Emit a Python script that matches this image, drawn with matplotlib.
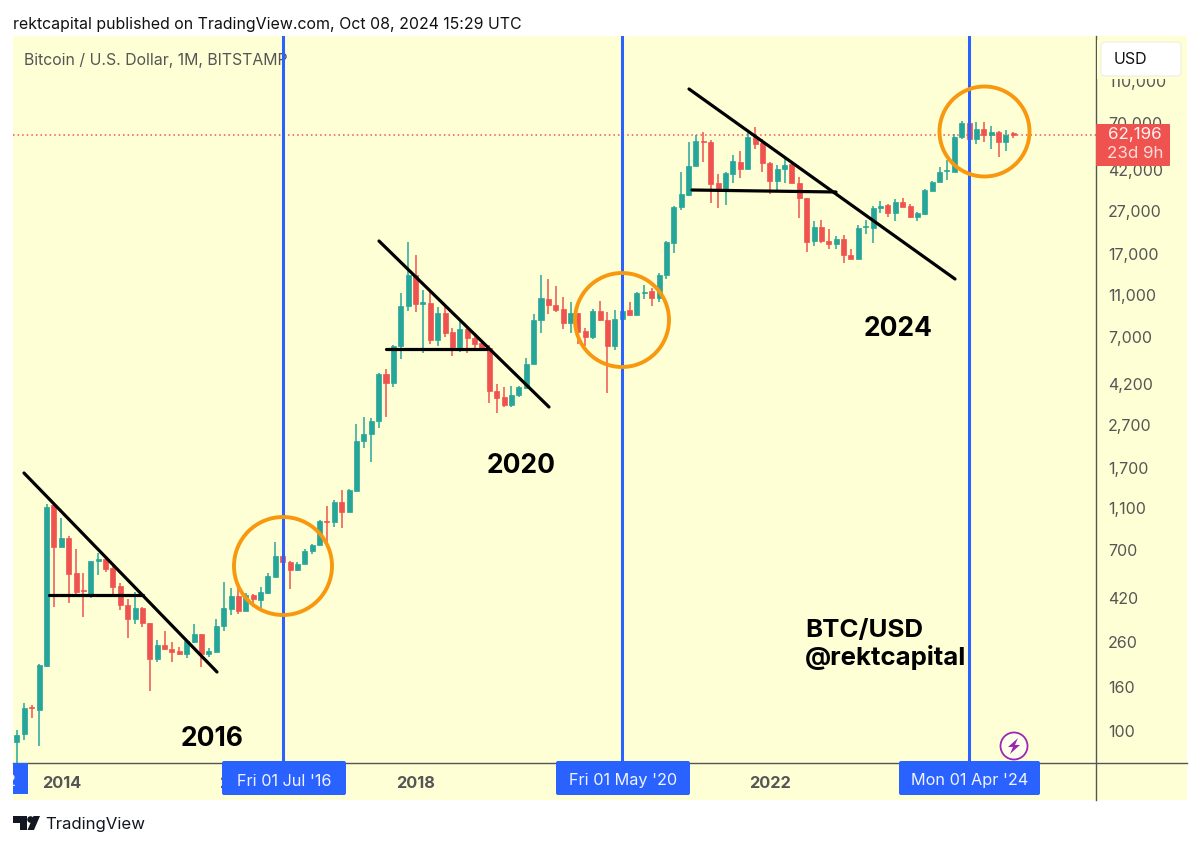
import numpy as np
import matplotlib
matplotlib.use("Agg")
import matplotlib.pyplot as plt
from matplotlib.patches import Circle, FancyBboxPatch, Polygon, Rectangle

plt.rcParams['font.family'] = ['Inter', 'DejaVu Sans']

# BTC/USD monthly candles, Jul 2013 to Oct 2024
opens = [89, 97, 130, 126, 202, 1140, 724, 800, 551, 457, 433, 626, 638, 581, 477, 390, 335, 378,
         319, 217, 252, 243, 236, 228, 262, 284, 229, 234, 309, 374, 428, 366, 433, 410, 441, 527,
         661, 616, 565, 603, 693, 738, 961, 951, 1183, 1055, 1334, 2275, 2440, 2820, 4680, 4240,
         6300, 9740, 13600, 9960, 10100, 6760, 9070, 7400, 6250, 7630, 6930, 6520, 6180, 3910,
         3640, 3350, 3720, 4040, 5210, 8380, 10550, 9880, 9450, 8090, 9010, 7470, 7000, 9240,
         8380, 6300, 8470, 9300, 8870, 11170, 11430, 10590, 13600, 19300, 28300, 32200, 44190,
         57670, 56860, 36550, 34260, 40400, 46000, 42800, 60400, 56200, 45300, 37600, 42500,
         45000, 36800, 31300, 19600, 22800, 19630, 19000, 20060, 16800, 16200, 22800, 22600,
         28000, 29000, 26600, 29800, 28600, 25300, 26300, 33800, 36900, 41700, 41400, 60000,
         70200, 58900, 65600, 61500, 63300, 57200, 62800]
highs = [101, 135, 132, 206, 1154, 1163, 989, 818, 708, 547, 626, 683, 654, 598, 491, 413, 448, 382,
         320, 267, 295, 262, 246, 267, 317, 284, 244, 335, 500, 465, 473, 444, 436, 470, 547, 769,
         690, 625, 618, 708, 750, 971, 1133, 1205, 1342, 1355, 2730, 2956, 2905, 4745, 4930, 6400,
         11170, 19360, 16900, 11580, 11370, 9610, 9740, 7660, 8230, 7790, 7260, 6710, 6400, 4200,
         4060, 4130, 4130, 5550, 8940, 13600, 12990, 12130, 10770, 10210, 9010, 7660, 9400, 10320,
         9160, 9330, 10000, 10210, 11300, 12220, 11790, 13860, 19600, 28600, 41160, 56860, 61500,
         63500, 58300, 40400, 41400, 49400, 51900, 64900, 67200, 58700, 46100, 44500, 47900,
         46100, 39300, 31300, 24350, 24600, 22300, 20700, 21000, 17950, 23400, 24600, 28600,
         30200, 29250, 30900, 31100, 29250, 26900, 34260, 37500, 43700, 47000, 62200, 71700,
         71000, 70500, 70500, 67800, 64200, 64900, 63300]
lows = [66, 91, 115, 85, 200, 382, 724, 398, 433, 340, 420, 537, 556, 438, 368, 273, 317, 308,
        153, 210, 238, 210, 227, 220, 257, 199, 223, 234, 295, 349, 353, 366, 382, 375, 438, 527,
        598, 463, 561, 603, 670, 738, 744, 904, 888, 1055, 1334, 2120, 1820, 2610, 2940, 4080,
        5510, 9260, 9160, 5890, 6470, 6330, 6960, 5690, 5960, 5850, 6020, 6020, 3440, 3090,
        3290, 3290, 3670, 4000, 5210, 7310, 8910, 9160, 7630, 7260, 6450, 6330, 6810, 8280,
        3800, 6070, 8300, 8750, 8800, 10470, 9740, 10210, 13040, 17300, 27400, 31900, 44190,
        46100, 29460, 28100, 28900, 36800, 38800, 42800, 52700, 41160, 32600, 34000, 36550,
        36550, 25100, 17400, 18500, 19300, 18000, 18100, 15400, 16100, 16200, 21100, 19300,
        26500, 25300, 24350, 28300, 25100, 24400, 26100, 33700, 36900, 37900, 41400, 58700,
        58500, 55800, 57200, 52700, 48500, 51900, 59300]
closes = [96, 128, 128, 204, 1114, 724, 800, 543, 448, 450, 626, 636, 575, 473, 389, 335, 375, 319,
          217, 253, 243, 235, 228, 264, 284, 229, 236, 309, 375, 428, 364, 433, 413, 446, 531, 661,
          620, 565, 603, 693, 740, 961, 955, 1183, 1055, 1342, 2275, 2450, 2820, 4680, 4240, 6330,
          9740, 13600, 9960, 10140, 6760, 9070, 7310, 6250, 7580, 6880, 6470, 6110, 3910, 3630,
          3350, 3720, 4060, 5220, 8380, 10590, 9850, 9330, 8090, 9010, 7390, 7000, 9240, 8380,
          6300, 8500, 9260, 8870, 11170, 11370, 10620, 13600, 19360, 28400, 32470, 44190, 57670,
          56860, 36300, 34260, 40700, 46300, 42800, 60000, 55800, 45300, 37600, 42500, 44500,
          36800, 31100, 19400, 22900, 19600, 19000, 20060, 16800, 16200, 22600, 23100, 27900,
          28600, 26600, 29900, 28400, 25300, 26500, 33900, 37100, 41300, 42300, 60000, 69800,
          58700, 65600, 61500, 63300, 57200, 61500, 61500]

price_ticks = [100, 160, 260, 420, 700, 1100, 1700, 2700, 4200, 7000, 11000, 17000, 27000, 42000, 70000, 110000]
year_ticks = [6, 30, 54, 102]
year_labels = ['2014', '2016', '2018', '2022']
halving_months = [36, 82, 129]
halving_labels = ["Fri 01 Jul '16", "Fri 01 May '20", "Mon 01 Apr '24"]

GREEN = '#26A69A'
RED = '#EF5350'
BLUE = '#2962FF'
ORANGE = '#F7980F'
YELLOW = '#FFFFD6'
W, H = 1200, 847


def axes_px(fig, left, top, right, bottom, **kw):
    # axes placed from pixel edges measured from the top left
    return fig.add_axes([left / W, 1 - bottom / H, (right - left) / W, (bottom - top) / H], **kw)


fig = plt.figure(figsize=(W / 100, H / 100), dpi=100, facecolor='white')

# yellow panel behind everything
bg = axes_px(fig, 0, 0, W, H, zorder=0)
bg.set_xlim(0, W)
bg.set_ylim(H, 0)
bg.axis('off')
bg.add_patch(Rectangle((13, 36), 1174, 764, color=YELLOW, lw=0))

# chart
ax = axes_px(fig, 13, 36, 1096, 763, zorder=1)
ax.patch.set_alpha(0)
ax.set_yscale('log')
ax.set_xlim(-0.54, 146.2)
ax.set_ylim(70.8, 178700)

x = np.arange(len(opens))
o = np.array(opens, dtype=float)
h = np.array(highs, dtype=float)
l = np.array(lows, dtype=float)
c = np.array(closes, dtype=float)
colors = [GREEN if c[i] >= o[i] else RED for i in x]

ax.axhline(c[-1], color=RED, lw=1.1, ls=(0, (1, 2)), zorder=1)
ax.vlines(x, l, h, colors=colors, lw=1.1, zorder=2)
ax.bar(x, np.abs(c - o), bottom=np.minimum(o, c), width=0.68, color=colors,
       edgecolor=colors, linewidth=0.5, zorder=3)
for m in halving_months:
    ax.axvline(m, color=BLUE, lw=2.2, zorder=4)

for side in ['top', 'left', 'right', 'bottom']:
    ax.spines[side].set_visible(False)
ax.yaxis.tick_right()
ax.minorticks_off()
ax.set_yticks(price_ticks)
ax.set_yticklabels([f'{p:,}' for p in price_ticks], fontsize=11.5, color='#555555')
ax.set_xticks(year_ticks)
ax.set_xticklabels(year_labels, fontsize=11.8, color='#555555', fontweight='bold')
ax.tick_params(axis='both', which='both', length=0)
ax.tick_params(axis='y', pad=8.6)
ax.tick_params(axis='x', pad=9.5)

# drawings and screenshot furniture, in pixels
over = axes_px(fig, 0, 0, W, H, zorder=2)
over.patch.set_alpha(0)
over.set_xlim(0, W)
over.set_ylim(H, 0)
over.axis('off')

ax.text(24, 60, 'Bitcoin / U.S. Dollar, 1M, BITSTAMP', transform=over.transData, fontsize=11.4,
        color='#555555', va='center', ha='left', zorder=0.5)

for x0, y0, x1, y1 in [(24, 473, 217, 672), (49, 595, 143, 595),
                       (379, 241, 549, 407), (386, 349, 487, 349),
                       (689, 89, 955, 279), (692, 190, 836, 192)]:
    over.plot([x0, x1], [y0, y1], color='black', lw=2.3, solid_capstyle='round')

for cx, cy, r in [(283, 566, 49), (622, 320, 47), (984.5, 131.5, 45)]:
    over.add_patch(Circle((cx, cy), r, fill=False, ec=ORANGE, lw=2.8))

for txt, tx, ty in [('2016', 212, 739), ('2020', 521, 466), ('2024', 898, 329)]:
    over.text(tx, ty, txt, fontsize=19, fontweight='bold', color='black', ha='center', va='center')
over.text(805, 630.5, 'BTC/USD', fontsize=18.6, fontweight='bold', color='black', va='center')
over.text(805, 658, '@rektcapital', fontsize=18.6, fontweight='bold', color='black', va='center')

# axis frame lines
over.plot([13, 1187], [763, 763], color='#555555', lw=1)
over.plot([1096, 1096], [36, 800], color='#555555', lw=1)

# date boxes on the time axis
for label, (x0, x1) in zip(halving_labels, [(222, 346), (556, 690), (899, 1040)]):
    over.add_patch(FancyBboxPatch((x0 + 2, 763), x1 - x0 - 4, 30, boxstyle='round,pad=2',
                                  color=BLUE, lw=0, zorder=3))
    over.text((x0 + x1) / 2, 781, label, color='#F0F4FF', fontsize=11.7, ha='center', va='center', zorder=4)
over.add_patch(Rectangle((13, 763), 15, 31, color=BLUE, lw=0, zorder=3))
left_box = over.text(16, 781, "2", color='#F0F4FF', fontsize=11.7, ha='right', va='center', zorder=4)
left_box.set_clip_path(Rectangle((13, 763), 15, 31, transform=over.transData))
left_box.set_clip_on(True)

# currency button
over.add_patch(Rectangle((1097, 40), 89, 39, color=YELLOW, lw=0, zorder=3))
over.add_patch(FancyBboxPatch((1105, 46), 72, 26, boxstyle='round,pad=4', fc='white', ec='#F2F2E0',
                              lw=1, zorder=4))
over.text(1114, 59, 'USD', fontsize=11.5, color='#111111', va='center', zorder=5)

# last price tag
over.add_patch(FancyBboxPatch((1097, 125), 72, 40, boxstyle='round,pad=1', color=RED, lw=0, zorder=3))
over.text(1135, 134, '62,196', color='#FFF4F2', fontsize=12.2, ha='center', va='center', zorder=4)
over.text(1135, 153, '23d 9h', color='#FFDCD8', fontsize=12.2, ha='center', va='center', zorder=4)

# lightning icon
over.add_patch(Circle((1014, 746), 13.5, fc='#FFFFEE', ec='#9C27B0', lw=1.3))
over.add_patch(Polygon([(1018, 738), (1008, 747), (1013, 747), (1010, 754), (1020, 745), (1015, 745)],
                       color='#9C27B0', lw=0))

# header and footer
over.text(13, 24, 'rektcapital published on TradingView.com, Oct 08, 2024 15:29 UTC', fontsize=11.45,
          color='#111111', va='center')
over.add_patch(Polygon([(13, 816), (27, 816), (27, 830), (20, 830), (20, 823), (13, 823)], color='#131722', lw=0))
over.add_patch(Circle((30.5, 819.5), 3.3, color='#131722', lw=0))
over.add_patch(Polygon([(33.5, 816), (40, 816), (34, 830), (27.5, 830)], color='#131722', lw=0))
over.text(45, 824, 'TradingView', fontsize=12.1, color='#131722', va='center')

fig.savefig('out.png', dpi=100)
